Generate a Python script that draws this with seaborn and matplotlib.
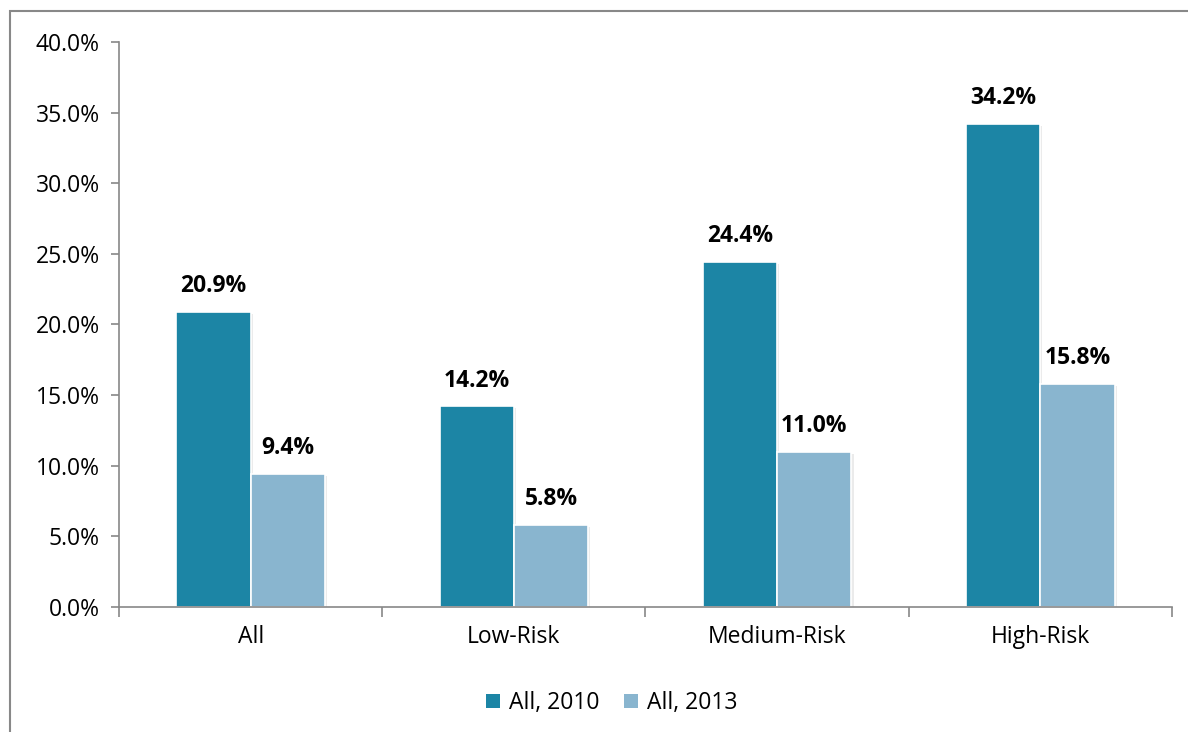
import matplotlib
matplotlib.use("Agg")
import matplotlib.pyplot as plt
import matplotlib.patheffects as pe
from matplotlib.patches import Rectangle
from matplotlib.ticker import FuncFormatter, FixedLocator
import seaborn as sns
import pandas as pd

categories = ["All", "Low-Risk", "Medium-Risk", "High-Risk"]
series_names = ["All, 2010", "All, 2013"]
values_2010 = [20.9, 14.2, 24.4, 34.2]
values_2013 = [9.4, 5.8, 11.0, 15.8]
colors = ["#1C85A5", "#89B5CF"]

df = pd.DataFrame({
    "category": categories * 2,
    "series": [series_names[0]] * 4 + [series_names[1]] * 4,
    "value": values_2010 + values_2013,
})

sns.set_theme(style="white")
plt.rcParams["font.family"] = ["Open Sans", "DejaVu Sans"]
plt.rcParams["text.color"] = "black"

fig = plt.figure(figsize=(11.88, 7.32), dpi=100)
ax = fig.add_axes([0.1002, 0.1708, 0.8863, 0.7718])

sns.barplot(data=df, x="category", y="value", hue="series", order=categories,
            hue_order=series_names, palette=colors, width=0.565, ax=ax,
            edgecolor="white", linewidth=1.2, saturation=1, legend=True)

for patch in ax.patches:
    patch.set_path_effects([pe.SimplePatchShadow(offset=(1.5, -1.5), alpha=0.08, shadow_rgbFace="#000000"),
                            pe.Normal()])

for container in ax.containers:
    ax.bar_label(container, labels=[f"{v:.1f}%" for v in container.datavalues],
                 padding=10, fontsize=16.5, fontweight="bold", color="black")

ax.set_ylim(0, 40)
ax.set_xlim(-0.5, 3.5)
ax.yaxis.set_major_locator(FixedLocator([0, 5, 10, 15, 20, 25, 30, 35, 40]))
ax.yaxis.set_major_formatter(FuncFormatter(lambda v, p: f"{v:.1f}%"))
ax.set_xlabel("")
ax.set_ylabel("")

# category boundary ticks on x axis
ax.set_xticks([-0.5, 0.5, 1.5, 2.5, 3.5], minor=True)
ax.tick_params(axis="x", which="major", length=0, labelsize=16.5, pad=13, labelcolor="black")
ax.tick_params(axis="x", which="minor", length=7, width=1.2, color="#888888", direction="out", bottom=True)
ax.tick_params(axis="y", length=6, width=1.2, color="#888888", direction="out", left=True,
               labelsize=16.5, labelcolor="black", pad=8)

for side in ["top", "right"]:
    ax.spines[side].set_visible(False)
for side in ["left", "bottom"]:
    ax.spines[side].set_color("#888888")
    ax.spines[side].set_linewidth(1.2)

leg = ax.legend(loc="upper center", bbox_to_anchor=(0.468, -0.112), ncol=2, frameon=False,
                fontsize=16.5, handlelength=0.6, handleheight=0.6, handletextpad=0.4,
                columnspacing=1.1)
for h in leg.legend_handles:
    h.set_edgecolor("none")
    h.set_path_effects([])
for t in leg.get_texts():
    t.set_color("black")

# outer chart frame
fig.patches.append(Rectangle((10 / 1188, -0.1), 1.5, 1 - 11 / 732 + 0.1, transform=fig.transFigure,
                             fill=False, edgecolor="#888888", linewidth=1.5))

fig.savefig("out.png", dpi=100)
